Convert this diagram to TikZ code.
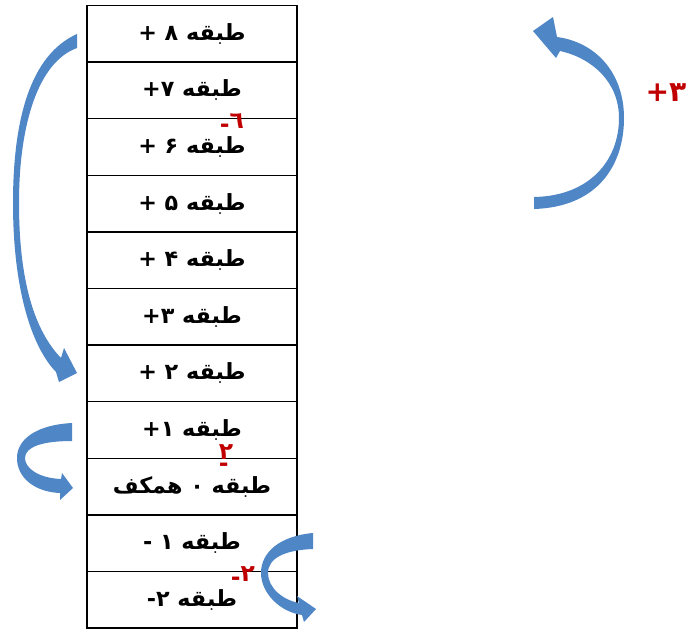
\documentclass[tikz,border=0pt]{standalone}
\usepackage{fontspec}
\usetikzlibrary{positioning}
\TeXXeTstate=1
\newfontfamily\arabicfont[Script=Arabic]{DejaVu Sans}
\definecolor{FloorBlue}{HTML}{4F86C6}
\definecolor{FloorRed}{HTML}{C00000}
\tikzset{
  floorbox/.style={draw,line width=1.3pt,minimum width=6.3cm,
    minimum height=1.698cm,inner sep=0pt,outer sep=0pt,
    font=\arabicfont\bfseries\fontsize{19}{22}\selectfont},
  floormark/.style={text=FloorRed,inner sep=0pt,
    font=\arabicfont\bfseries\fontsize{20}{10}\selectfont},
  turnarrow/.style={fill=FloorBlue}
}

\begin{document}
\begin{tikzpicture}[x=0.03cm,y=-0.03cm]

        \useasboundingbox (0,0) rectangle (693,631);

        \node[floorbox] (floor8) at (192,33.8) {\beginR طبقه ۸ +\endR};
        \node[floorbox,below=0pt of floor8] (floor7) {\beginR طبقه ۷\kern0pt+\endR};
        \node[floorbox,below=0pt of floor7] (floor6) {\beginR طبقه ۶ +\endR};
        \node[floorbox,below=0pt of floor6] (floor5) {\beginR طبقه ۵ +\endR};
        \node[floorbox,below=0pt of floor5] (floor4) {\beginR طبقه ۴ +\endR};
        \node[floorbox,below=0pt of floor4] (floor3) {\beginR طبقه ۳\kern0pt+\endR};
        \node[floorbox,below=0pt of floor3] (floor2) {\beginR طبقه ۲ +\endR};
        \node[floorbox,below=0pt of floor2] (floor1) {\beginR طبقه ۱\kern0pt+\endR};
        \node[floorbox,below=0pt of floor1] (floor0) {\beginR طبقه ۰ همکف\endR};
        \node[floorbox,below=0pt of floor0] (floorm1) {\beginR طبقه ۱ -\endR};
        \node[floorbox,below=0pt of floorm1] (floorm2) {\beginR طبقه ۲\kern0pt-\endR};

        \node[floormark] (markSix) at (232,123) {-\raisebox{0.3ex}{٦}};
        \node[floormark,align=left] (markTwoUp) at (226,458) {۲\\[1pt]-};
        \node[floormark] (markTwoDown) at (243,576) {-\raisebox{0.3ex}{۲}};

        \node[text=FloorRed,inner sep=0pt,
          font=\arabicfont\bfseries\fontsize{24}{28}\selectfont]
          (markThree) at (666,93) {\beginR ۳\kern0pt+\endR};

        \fill[turnarrow]
          (77,34) .. controls (30,55) and (13,120) .. (13,203)
          .. controls (13,285) and (30,345) .. (56,372)
          -- (59,382) -- (77,373) -- (64,348) -- (61,358)
          .. controls (34,330) and (19,280) .. (19,203)
          .. controls (19,125) and (38,62) .. (77,48) -- cycle;

        \fill[turnarrow]
          (534,209) .. controls (598,207) and (624,165) .. (624,118)
          .. controls (624,72) and (595,42) .. (557,37)
          -- (553,17) -- (533,31) -- (556,58) -- (560,51)
          .. controls (592,58) and (619,82) .. (619,118)
          .. controls (619,160) and (590,196) .. (534,197) -- cycle;

        \fill[turnarrow]
          (72,423) .. controls (35,425) and (17,440) .. (17,458)
          .. controls (17,478) and (35,492) .. (60,493)
          -- (60,500) -- (73,488) -- (62,473) -- (61,479)
          .. controls (38,478) and (25,468) .. (25,458)
          .. controls (25,447) and (42,441) .. (72,441) -- cycle;

        \fill[turnarrow]
          (313,533) .. controls (280,536) and (261,552) .. (261,573)
          .. controls (261,593) and (280,612) .. (302,615)
          -- (304,622) -- (316,609) -- (297,596) -- (299,603)
          .. controls (283,600) and (268,588) .. (268,573)
          .. controls (268,558) and (285,550) .. (313,549) -- cycle;

      \end{tikzpicture}
\end{document}
